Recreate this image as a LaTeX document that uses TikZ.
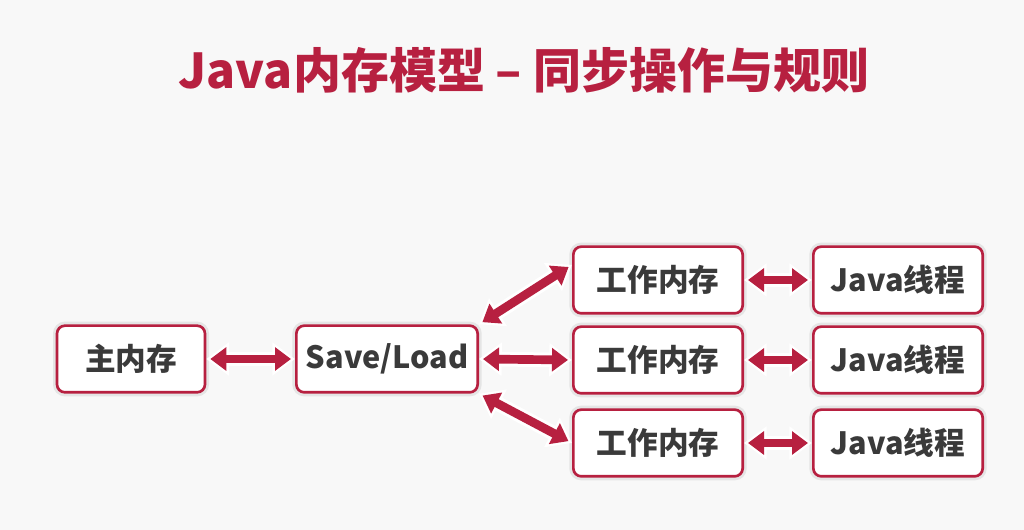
\documentclass[tikz,border=0pt]{standalone}
\usepackage{fontspec}
\setmainfont{Noto Sans CJK SC}
\usepackage{xcolor}
\usetikzlibrary{positioning,arrows.meta}

\definecolor{jmmred}{RGB}{183,32,64}
\definecolor{txtgray}{RGB}{58,58,58}
\definecolor{bgcol}{RGB}{248,248,248}

\begin{document}
\begin{tikzpicture}[x=0.75pt,y=-0.75pt,
		box/.style={draw=jmmred, line width=2pt, rounded corners=6pt, fill=white, text=txtgray,
			font=\bfseries\fontsize{23}{23}\selectfont, minimum height=50pt, inner sep=0pt,
			preaction={draw=black!10, line width=6pt}},
		biarrow/.style={jmmred, line width=6.5pt, shorten >=3pt, shorten <=3pt,
			{Triangle[length=12pt,width=17pt]}-{Triangle[length=12pt,width=17pt]},
			preaction={draw=white, line width=11pt, shorten >=0pt, shorten <=0pt,
				{Triangle[length=17pt,width=24pt]}-{Triangle[length=17pt,width=24pt]}}}]
		\fill[bgcol] (0,0) rectangle (1024,530);

		\node[text=jmmred, font=\bfseries\fontsize{36}{36}\selectfont] (title) at (524,70) {Java内存模型 – 同步操作与规则};

		\node[box, minimum width=111pt] (main) at (131,359) {主内存};
		\node[box, minimum width=136pt] (sl) at (387,359) {Save/Load};

		\node[box, minimum width=127pt] (w1) at (658,280) {工作内存};
		\node[box, minimum width=127pt] (w2) at (658,360) {工作内存};
		\node[box, minimum width=127pt] (w3) at (658,443) {工作内存};

		\node[box, minimum width=127pt, right=51pt of w1] (j1) {Java线程};
		\node[box, minimum width=127pt, right=51pt of w2] (j2) {Java线程};
		\node[box, minimum width=127pt, right=51pt of w3] (j3) {Java线程};

		\draw[biarrow] (main.east) -- (sl.west);
		\draw[biarrow] (sl.north east) -- (w1.170);
		\draw[biarrow] (sl.east) -- (w2.west);
		\draw[biarrow] (sl.south east) -- (w3.west);

		\draw[biarrow] (w1.east) -- (j1.west);
		\draw[biarrow] (w2.east) -- (j2.west);
		\draw[biarrow] (w3.east) -- (j3.west);
\end{tikzpicture}
\end{document}
